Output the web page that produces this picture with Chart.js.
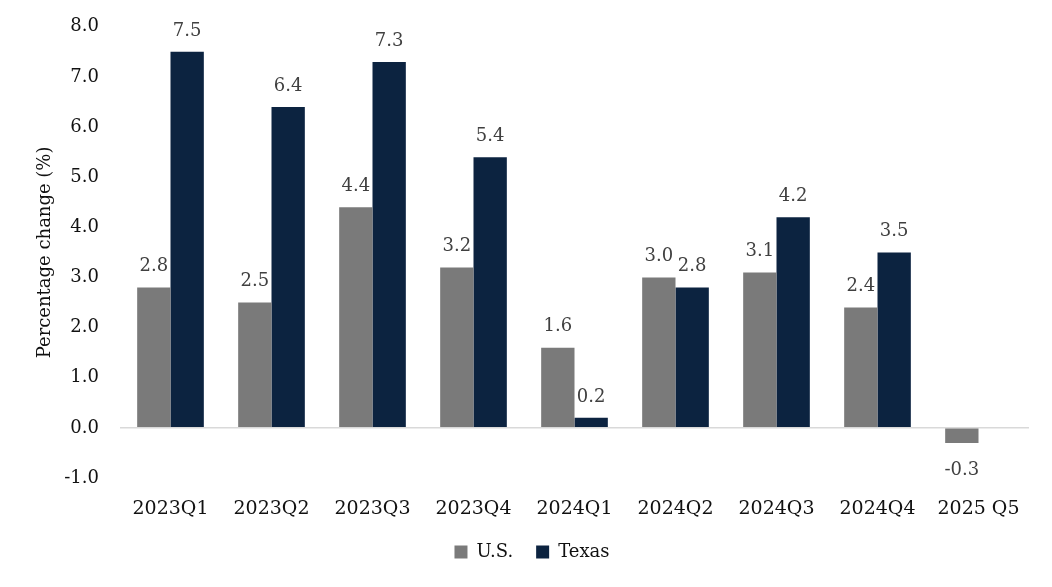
<!DOCTYPE html>
<html lang="en">
<head>
    <meta charset="UTF-8">
    <title>Percentage change: U.S. vs Texas</title>
    <script src="https://cdn.jsdelivr.net/npm/chart.js"></script>
    <style>
        html, body {
            margin: 0;
            padding: 0;
            background: #ffffff;
        }
        .chart-box {
            width: 1052px;
            height: 587px;
        }
    </style>
</head>
<body>
    <div class="chart-box">
        <canvas id="growthChart"></canvas>
    </div>

    <script>
        const quarters = ["2023Q1", "2023Q2", "2023Q3", "2023Q4", "2024Q1", "2024Q2", "2024Q3", "2024Q4", "2025 Q5"];
        const usValues = [2.8, 2.5, 4.4, 3.2, 1.6, 3.0, 3.1, 2.4, -0.3];
        const texasValues = [7.5, 6.4, 7.3, 5.4, 0.2, 2.8, 4.2, 3.5, null];
        const yMin = -1;
        const yMax = 8;
        const yStep = 1;

        const fontFamily = "'DejaVu Serif', 'Liberation Serif', serif";

        // draws the value above (or below for negatives) each bar
        const barValueLabels = {
            id: "barValueLabels",
            afterDatasetsDraw(chart) {
                const ctx = chart.ctx;
                ctx.save();
                ctx.font = "18px " + fontFamily;
                ctx.fillStyle = "#404040";
                ctx.textAlign = "center";
                chart.data.datasets.forEach((ds, i) => {
                    const meta = chart.getDatasetMeta(i);
                    meta.data.forEach((bar, j) => {
                        const v = ds.data[j];
                        if (v === null || v === undefined) return;
                        if (v >= 0) {
                            ctx.textBaseline = "bottom";
                            ctx.fillText(v.toFixed(1), bar.x, bar.y - 12);
                        } else {
                            ctx.textBaseline = "top";
                            ctx.fillText(v.toFixed(1), bar.x, bar.y + 18);
                        }
                    });
                });
                ctx.restore();
            }
        };

        const ctx = document.getElementById("growthChart").getContext("2d");
        new Chart(ctx, {
            type: "bar",
            data: {
                labels: quarters,
                datasets: [
                    {
                        label: "U.S.",
                        data: usValues,
                        backgroundColor: "#7a7a7a"
                    },
                    {
                        label: "Texas",
                        data: texasValues,
                        backgroundColor: "#0c2340"
                    }
                ]
            },
            options: {
                responsive: true,
                maintainAspectRatio: false,
                animation: false,
                layout: {
                    padding: { top: 0, right: 23, left: 35, bottom: 16 }
                },
                datasets: {
                    bar: {
                        categoryPercentage: 0.66,
                        barPercentage: 1.0
                    }
                },
                scales: {
                    x: {
                        grid: { display: false, drawTicks: false },
                        border: { display: false },
                        afterFit: scale => { scale.height = 42; },
                        ticks: {
                            color: "#111111",
                            padding: 20,
                            font: { family: fontFamily, size: 19 }
                        }
                    },
                    y: {
                        min: yMin,
                        max: yMax,
                        border: { display: false },
                        afterFit: scale => {
                            scale.width = 85;
                            scale.paddingTop -= 5;
                        },
                        grid: {
                            drawTicks: false,
                            lineWidth: 1.5,
                            color: c => c.tick && c.tick.value === 0 ? "#d9d9d9" : "rgba(0,0,0,0)"
                        },
                        ticks: {
                            stepSize: yStep,
                            color: "#111111",
                            padding: 21,
                            font: { family: fontFamily, size: 18 },
                            callback: v => v.toFixed(1)
                        },
                        title: {
                            display: true,
                            text: "Percentage change (%)",
                            color: "#111111",
                            font: { family: fontFamily, size: 18 },
                            padding: { top: 0, bottom: 6 }
                        }
                    }
                },
                plugins: {
                    legend: {
                        position: "bottom",
                        labels: {
                            boxWidth: 13,
                            boxHeight: 13,
                            padding: 23,
                            color: "#111111",
                            font: { family: fontFamily, size: 18 }
                        }
                    },
                    tooltip: { enabled: false }
                }
            },
            plugins: [barValueLabels]
        });
    </script>
</body>
</html>
